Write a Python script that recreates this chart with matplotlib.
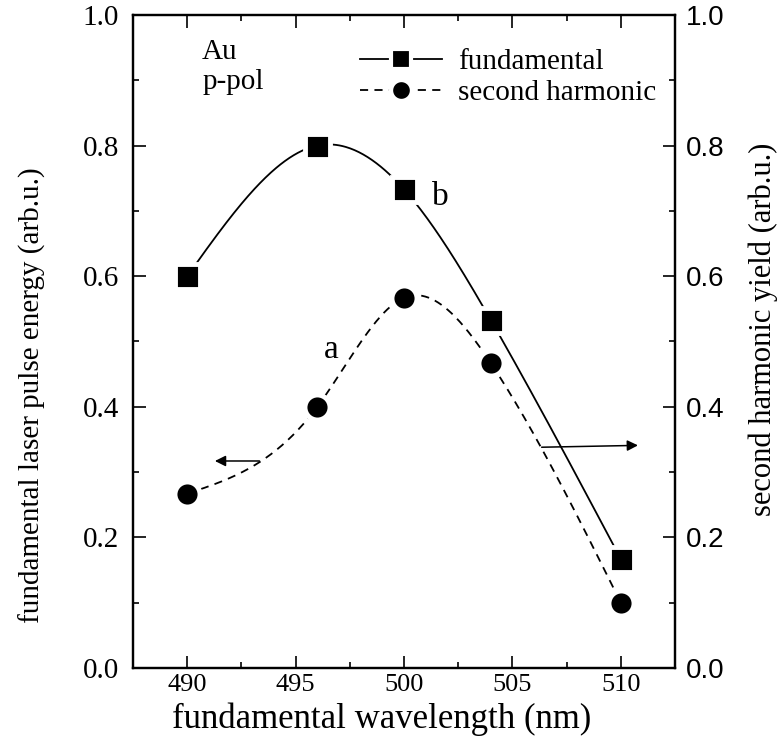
import numpy as np
import matplotlib
matplotlib.use("Agg")
import matplotlib.pyplot as plt
from matplotlib.lines import Line2D
from matplotlib.ticker import MultipleLocator

# Данные
wavelength = np.array([490, 496, 500, 504, 510], dtype=float)
fundamental = np.array([0.600, 0.800, 0.733, 0.533, 0.167])
second_harmonic = np.array([0.267, 0.400, 0.567, 0.467, 0.100])

x_ticks = [490, 495, 500, 505, 510]
y_ticks = [0.0, 0.2, 0.4, 0.6, 0.8, 1.0]

SERIF = "Liberation Serif"
SANS = "Liberation Sans"


def natural_spline(x, y, xs):
    """Натуральный кубический сплайн (без scipy)"""
    n = len(x)
    h = np.diff(x)
    A = np.zeros((n, n))
    r = np.zeros(n)
    A[0, 0] = A[-1, -1] = 1.0
    for i in range(1, n - 1):
        A[i, i - 1] = h[i - 1]
        A[i, i] = 2 * (h[i - 1] + h[i])
        A[i, i + 1] = h[i]
        r[i] = 3 * ((y[i + 1] - y[i]) / h[i] - (y[i] - y[i - 1]) / h[i - 1])
    c = np.linalg.solve(A, r)
    b = (y[1:] - y[:-1]) / h - h * (2 * c[:-1] + c[1:]) / 3
    d = (c[1:] - c[:-1]) / (3 * h)
    idx = np.clip(np.searchsorted(x, xs) - 1, 0, n - 2)
    dx = xs - x[idx]
    return y[idx] + b[idx] * dx + c[idx] * dx ** 2 + d[idx] * dx ** 3


plt.rcParams['font.family'] = [SERIF, 'DejaVu Serif']

fig = plt.figure(figsize=(7.8, 7.52), dpi=100)
ax = fig.add_axes([0.1705, 0.1117, 0.6949, 0.8684])
ax2 = ax.twinx()

xs = np.linspace(wavelength[0], wavelength[-1], 400)

# кривая b (основная гармоника)
ax.plot(xs, natural_spline(wavelength, fundamental, xs), color='black', lw=1.3, zorder=2)
ax.plot(wavelength, fundamental, ls='none', marker='s', ms=18, mfc='black',
        mec='white', mew=3.5, zorder=3)

# кривая a (вторая гармоника)
ax2.plot(xs, natural_spline(wavelength, second_harmonic, xs), color='black', lw=1.3,
         ls=(0, (4.5, 3.5)), zorder=2)
ax2.plot(wavelength, second_harmonic, ls='none', marker='o', ms=18, mfc='black',
         mec='white', mew=3.5, zorder=3)

for a in (ax, ax2):
    a.set_xlim(487.5, 512.5)
    a.set_ylim(0, 1.0)

ax.set_xticks(x_ticks)
ax.set_yticks(y_ticks)
ax2.set_yticks(y_ticks)
ax.xaxis.set_minor_locator(MultipleLocator(2.5))
ax.yaxis.set_minor_locator(MultipleLocator(0.1))
ax2.yaxis.set_minor_locator(MultipleLocator(0.1))
ax.yaxis.set_major_formatter(plt.FormatStrFormatter('%.1f'))
ax2.yaxis.set_major_formatter(plt.FormatStrFormatter('%.1f'))

ax.tick_params(axis='both', which='both', direction='in', top=True, right=False, width=1.2)
ax.tick_params(axis='both', which='major', length=9)
ax.tick_params(axis='both', which='minor', length=4.5)
ax.tick_params(axis='y', which='major', pad=10, labelsize=21)
ax.tick_params(axis='x', which='major', pad=4, labelsize=19)
ax2.tick_params(axis='y', which='both', direction='in', width=1.2, pad=8, labelsize=20,
                labelfontfamily=SANS)
ax2.tick_params(axis='y', which='major', length=9)
ax2.tick_params(axis='y', which='minor', length=4.5)

for sp in ax.spines.values():
    sp.set_linewidth(1.6)
for sp in ax2.spines.values():
    sp.set_linewidth(1.6)

ax.set_xlabel('fundamental wavelength (nm)', fontsize=25, fontfamily=SERIF)
ax.xaxis.set_label_coords(0.458, -0.092)
ax.xaxis.label.set_va('baseline')
ax.set_ylabel('fundamental laser pulse energy (arb.u.)', fontsize=21, fontfamily=SERIF)
ax.yaxis.set_label_coords(-0.186, 0.418)
ax.yaxis.label.set_va('center')
ax2.set_ylabel('second harmonic yield (arb.u.)', fontsize=22, fontfamily=SERIF)
ax2.yaxis.set_label_coords(1.163, 0.519)
ax2.yaxis.label.set_va('center')
ax2.yaxis.label.set_rotation(90)

# подписи
ax2.text(490.69, 0.943, 'Au', fontsize=21, ha='left', va='center')
ax2.text(490.69, 0.897, 'p-pol', fontsize=21, ha='left', va='center')
ax2.text(496.64, 0.487, 'a', fontsize=24, ha='center', va='center')
ax2.text(501.7, 0.721, 'b', fontsize=24, ha='center', va='center')

# стрелки к осям
arrow = dict(arrowstyle='-|>', color='black', lw=1.1, mutation_scale=16)
ax2.annotate('', xy=(491.15, 0.317), xytext=(493.46, 0.317), arrowprops=arrow)
ax2.annotate('', xy=(510.92, 0.341), xytext=(506.22, 0.338), arrowprops=arrow)

# легенда
handles = [
    Line2D([], [], color='black', lw=1.3, marker='s', ms=15, mfc='black', mec='white', mew=3),
    Line2D([], [], color='black', lw=1.3, ls=(0, (4.5, 3.5)), marker='o', ms=15,
           mfc='black', mec='white', mew=3),
]
leg = ax2.legend(handles, ['fundamental', 'second harmonic'], loc='upper left',
                 bbox_to_anchor=(0.419, 0.948), frameon=False, fontsize=21,
                 handlelength=2.8, handletextpad=0.55, labelspacing=0.15, borderpad=0,
                 borderaxespad=0, numpoints=1)

plt.savefig('out.png', dpi=100)
